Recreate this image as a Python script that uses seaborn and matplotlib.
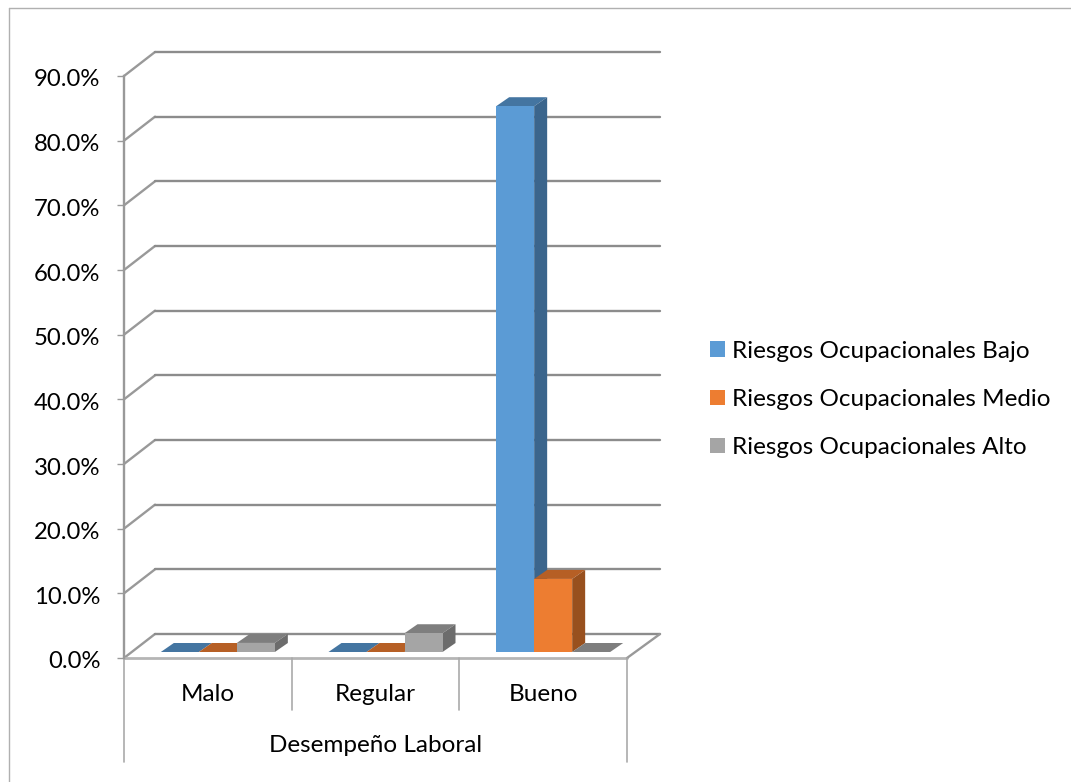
import matplotlib
matplotlib.use("Agg")
import matplotlib.pyplot as plt
from matplotlib.lines import Line2D
from matplotlib.patches import Polygon, Patch
from matplotlib.transforms import ScaledTranslation
import pandas as pd
import seaborn as sns

categories = ["Malo", "Regular", "Bueno"]
bajo = [0.0, 0.0, 84.4]
medio = [0.0, 0.0, 11.3]
alto = [1.4, 2.9, 0.0]
series_names = ["Riesgos Ocupacionales Bajo", "Riesgos Ocupacionales Medio", "Riesgos Ocupacionales Alto"]
yticks = [0, 10, 20, 30, 40, 50, 60, 70, 80, 90]
xlabel = "Desempeño Laboral"

front = ["#5b9bd5", "#ed7d31", "#a5a5a5"]
top = ["#4475a1", "#b65f25", "#7e7e7e"]
side = ["#3b658c", "#98501e", "#6c6c6c"]
line_col = "#999999"

W, H = 1071, 782

sns.set_style("white")
plt.rcParams["font.family"] = ["Lato", "DejaVu Sans"]

rows = []
for name, vals in zip(series_names, [bajo, medio, alto]):
    for c, v in zip(categories, vals):
        rows.append({"cat": c, "serie": name, "valor": v})
df = pd.DataFrame(rows)

fig = plt.figure(figsize=(W / 100, H / 100), dpi=100)
ax = fig.add_axes([124 / W, 1 - 658 / H, (627 - 124) / W, (658 - 76) / H])

sns.barplot(data=df, x="cat", y="valor", hue="serie", hue_order=series_names, order=categories,
            palette=front, saturation=1, width=0.68, gap=0, legend=False, ax=ax, zorder=3, linewidth=0)
ax.set_xlim(-0.5, 2.5)
ax.set_ylim(0, 90)

# data units per pixel
DX = 3 / (627 - 124)
DY = 90 / (658 - 76)

# back wall and side wall lines
for v in yticks:
    ax.plot([-0.5, -0.5 + 31 * DX], [v, v + 24 * DY], color=line_col, lw=1.7, clip_on=False, zorder=1)
    ax.plot([-0.5 + 31 * DX, -0.5 + 536 * DX], [v + 24 * DY, v + 24 * DY], color="#8c8c8c", lw=1.7,
            clip_on=False, zorder=1)

# floor, right edge
ax.plot([-0.5, 2.5], [0, 0], color="#b5b5b5", lw=2, clip_on=False, zorder=2)
ax.plot([2.5, 2.5 + 33 * DX], [0, 24 * DY], color=line_col, lw=1.7, clip_on=False, zorder=2)

# bars are drawn by seaborn, moved into the depth and given top and side faces
off_x, off_y = 10 * DX, 6 * DY
dep_x, dep_y = 13 * DX, 9 * DY
for i, cont in enumerate(ax.containers):
    z = 2.5 + i * 0.1  # faces stay behind all the fronts, later series over earlier ones
    for bar in cont:
        bar.set_x(bar.get_x() + off_x)
        bar.set_y(off_y)
        bar.set_clip_on(False)
        bar.set_zorder(3)
        x0, x1 = bar.get_x(), bar.get_x() + bar.get_width()
        y0, y1 = off_y, off_y + bar.get_height()
        ax.add_patch(Polygon([(x0, y1), (x1, y1), (x1 + dep_x, y1 + dep_y), (x0 + dep_x, y1 + dep_y)],
                             closed=True, fc=top[i], ec="none", zorder=z, clip_on=False))
        if y1 > y0:
            ax.add_patch(Polygon([(x1, y0), (x1, y1), (x1 + dep_x, y1 + dep_y), (x1 + dep_x, y0 + dep_y)],
                                 closed=True, fc=side[i], ec="none", zorder=z, clip_on=False))

sns.despine(ax=ax, top=True, right=True, bottom=True, left=False)
ax.spines["left"].set_color(line_col)
ax.spines["left"].set_linewidth(1.7)
ax.set_xlabel("")
ax.set_ylabel("")
ax.set_yticks(yticks)
ax.set_yticklabels([f"{v:.1f}%" for v in yticks], fontsize=17.2, color="black")
ax.tick_params(axis="y", left=True, length=5, width=1, color=line_col, pad=12)
for lab in ax.get_yticklabels():
    lab.set_transform(lab.get_transform() + ScaledTranslation(0, -2 / 100, fig.dpi_scale_trans))
ax.set_xticks([0, 1, 2])
ax.set_xticklabels(categories, fontsize=17.5, color="black")
ax.tick_params(axis="x", bottom=False, length=0, pad=19)

# category separators under the floor
trans = ax.get_xaxis_transform()
for x, ln in zip([-0.5, 0.5, 1.5, 2.5], [104, 52, 52, 104]):
    ax.plot([x, x], [0, -ln / (658 - 76)], transform=trans, color="#aaaaaa", lw=1.2, clip_on=False)
ax.text(1, -88 / (658 - 76), xlabel, transform=trans, ha="center", va="center", fontsize=17.5, color="black")

handles = [Patch(fc=c, ec="none") for c in front]
fig.legend(handles, series_names, loc="center left", bbox_to_anchor=(710 / W, 1 - 399.5 / H), frameon=False,
           fontsize=17.5, handlelength=0.61, handleheight=0.61, handletextpad=0.29, labelspacing=1.12,
           borderpad=0, borderaxespad=0, labelcolor="black")

# outer chart border, only top and left are in the picture
fig.add_artist(Line2D([9 / W, 1], [1 - 8 / H, 1 - 8 / H], color="#b0b0b0", lw=1))
fig.add_artist(Line2D([9 / W, 9 / W], [0, 1 - 8 / H], color="#b0b0b0", lw=1))

fig.savefig("out.png", dpi=100, facecolor="white")
